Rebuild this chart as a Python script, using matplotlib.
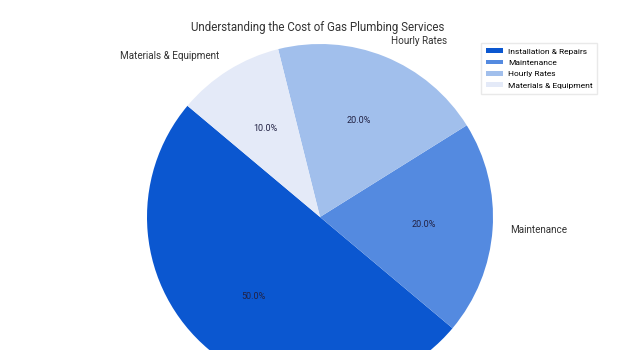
import matplotlib.pyplot as plt

plt.rcParams['font.family'] = ['Roboto', 'DejaVu Sans']

categories = ['Installation & Repairs', 'Maintenance', 'Hourly Rates', 'Materials & Equipment']
shares = [50, 20, 20, 10]
colors = ['#0b57d0', '#548ae0', '#a1bfec', '#e4eaf8']

fig = plt.figure(figsize=(6.4, 3.5), dpi=100)
ax = fig.add_axes([0, 0, 1, 1])

wedges, texts, autotexts = ax.pie(
    shares, labels=categories, colors=colors, autopct='%1.1f%%',
    startangle=140, counterclock=True, labeldistance=1.1, pctdistance=0.6,
    textprops={'fontsize': 7.1, 'color': '#333333'})
for t in autotexts:
    t.set_fontsize(6.5)
    t.set_color('#222244')
# the first wedge's outer label falls below the canvas
texts[0].set_visible(False)

# pie centre sits a bit low so the bottom runs off the canvas
scale = 173.0
ax.set_xlim(-320 / scale, 320 / scale)
ax.set_ylim(-133 / scale, 217 / scale)
ax.axis('off')

fig.text(0.497, 0.922, 'Understanding the Cost of Gas Plumbing Services',
         ha='center', va='center', fontsize=8.3, color='#333333')

ax.legend(wedges, categories, loc='upper right', bbox_to_anchor=(0.94, 0.888),
          bbox_transform=fig.transFigure, fontsize=6.0, frameon=True,
          handlelength=2.0, handleheight=0.5, borderpad=0.6, labelspacing=0.6,
          handletextpad=0.6, edgecolor='#e4e4e4', fancybox=False)

fig.savefig('out.png', dpi=100)
